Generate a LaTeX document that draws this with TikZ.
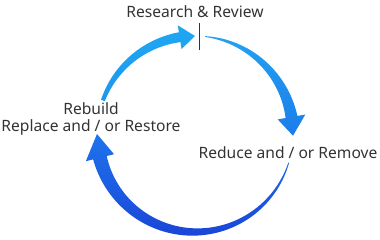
\documentclass[tikz,border=0pt]{standalone}
\usepackage{fontspec}
\setmainfont{Noto Sans}
\definecolor{txt}{HTML}{333333}
\definecolor{bluA}{HTML}{1FA7F3}
\definecolor{bluB}{HTML}{1E97EE}
\definecolor{bluC}{HTML}{21A2F1}
\definecolor{bluD}{HTML}{1C7CEA}
\definecolor{bluE}{HTML}{1E74EC}
\definecolor{bluF}{HTML}{1A46D8}
\newcommand\cycarrow[7]{%
  \path[#7] plot[domain=#1:#2, samples=70, variable=\t]
      (\t:{\R + (#4 + (#5-#4)*(\t-#1)/(#2-#1))/2})
    -- (#2:{\R+#6}) -- (#3:\R) -- (#2:{\R-#6})
    -- plot[domain=#2:#1, samples=70, variable=\t]
      (\t:{\R - (#4 + (#5-#4)*(\t-#1)/(#2-#1))/2})
    -- cycle;}
\begin{document}
\begin{tikzpicture}[x=1pt,y=1pt,
  lbl/.style={text=txt, font=\fontsize{15.6}{17}\selectfont, inner sep=0pt, align=center}]
\useasboundingbox (0,0) rectangle (380,240);
\def\R{98}
\begin{scope}[shift={(195,106)}]
  \cycarrow{160}{99}{90}{4}{10}{12}{top color=bluA, bottom color=bluB}
  \cycarrow{84}{10}{-1}{0.8}{12}{14}{top color=bluC, bottom color=bluD}
  \cycarrow{-17}{-166}{-180}{0.8}{14}{14.5}{top color=bluE, bottom color=bluF}
\end{scope}
\coordinate (tickTop) at (199,217);
\coordinate (tickBot) at (199,190);
\draw[txt, line width=0.9pt] (tickTop) -- (tickBot);
\node[lbl] (research) at (195,228) {Research \& Review};
\node[lbl] (reduce) at (288,87) {Reduce and / or Remove};
\node[lbl] (rebuild) at (91,121.5) {Rebuild\\Replace and / or Restore};
\end{tikzpicture}
\end{document}
